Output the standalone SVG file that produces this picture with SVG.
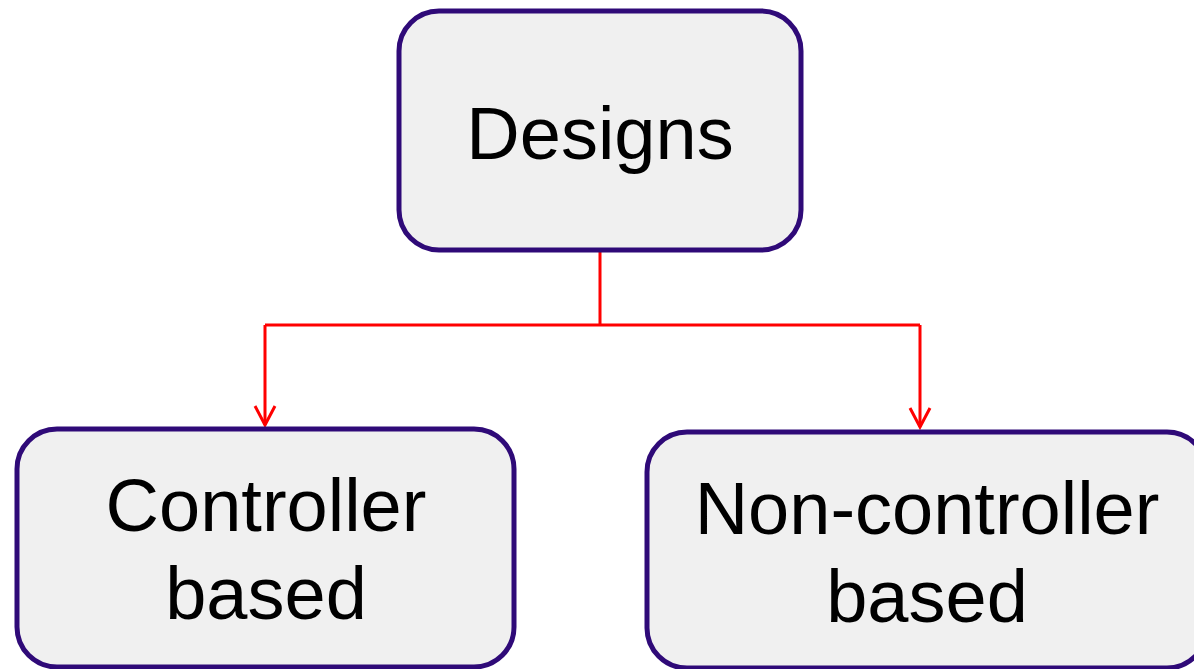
<svg xmlns="http://www.w3.org/2000/svg" width="1194" height="669" viewBox="0 0 1194 669">
  <style>
    .box { fill: #f0f0f0; stroke: #2f0a78; stroke-width: 5; }
    .label { font-family: "Liberation Sans", Arial, sans-serif; font-size: 74px; fill: #000; text-anchor: middle; }
    .wire { fill: none; stroke: #ff0000; stroke-width: 3; }
  </style>
  <rect width="1194" height="669" fill="#ffffff"/>

  <g id="connectors">
    <path class="wire" d="M600 252 V325 M265 325 H920 M265 325 V425 M920 325 V427"/>
    <path class="wire" d="M255 406 L265 425 L275 406"/>
    <path class="wire" d="M910 408 L920 427 L930 408"/>
  </g>

  <g id="designs">
    <rect class="box" x="399" y="11" width="402" height="239" rx="40"/>
    <text class="label" x="600" y="159">Designs</text>
  </g>

  <g id="controller-based">
    <rect class="box" x="17" y="429" width="497" height="238" rx="40"/>
    <text class="label" x="266" y="531">Controller</text>
    <text class="label" x="266" y="619">based</text>
  </g>

  <g id="non-controller-based">
    <rect class="box" x="647" y="432" width="560" height="236" rx="40"/>
    <text class="label" x="927" y="534">Non-controller</text>
    <text class="label" x="927" y="622">based</text>
  </g>
</svg>
